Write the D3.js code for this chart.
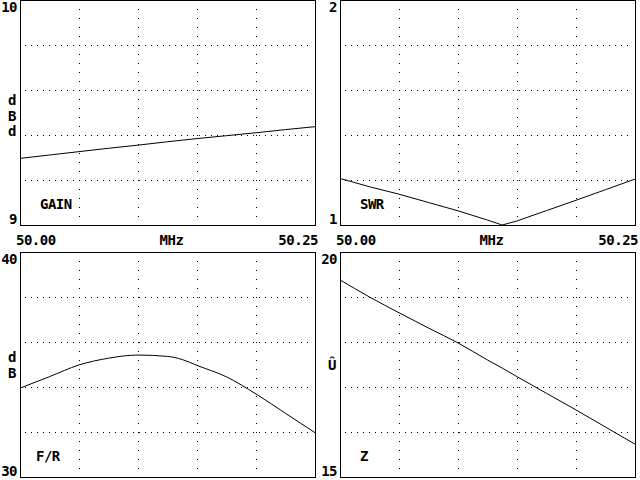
<!DOCTYPE html>
<html><head><meta charset="utf-8">
<script src="https://cdn.jsdelivr.net/npm/d3@7"></script>
<style>
html,body{margin:0;padding:0;background:#fff;}
svg{display:block;}
text{font-family:"DejaVu Sans Mono",monospace;font-weight:bold;font-size:14px;fill:#000;letter-spacing:-0.5px;}
</style></head>
<body>
<svg id="c" width="640" height="480"></svg>
<script>
// Frequencies (MHz)
const freqs = [50.000, 50.025, 50.050, 50.075, 50.100, 50.125, 50.1375, 50.150, 50.175, 50.200, 50.225, 50.250];
// Series
const gain = [9.296, 9.311, 9.326, 9.341, 9.355, 9.370, 9.377, 9.384, 9.397, 9.410, 9.424, 9.437];
const swr  = [1.207, 1.170, 1.137, 1.100, 1.063, 1.022, 1.000, 1.018, 1.064, 1.110, 1.157, 1.204];
const fr   = [33.95, 34.46, 34.98, 35.28, 35.42, 35.36, 35.22, 34.96, 34.45, 33.69, 32.83, 31.97];
const z    = [19.38, 19.00, 18.65, 18.31, 17.98, 17.60, 17.42, 17.23, 16.86, 16.49, 16.11, 15.73];

const xDomain = [50.00, 50.25];
const xTickLabels = ["50.00", "MHz", "50.25"];
const xGrid = [50.05, 50.10, 50.15, 50.20];

const panels = [
  {name:"GAIN", data:gain, domain:[9,10],  yLabels:["10","9"],  unit:["d","B","d"], x0:20,  y0:0,   xlab:true,  smooth:true},
  {name:"SWR",  data:swr,  domain:[1,2],   yLabels:["2","1"],   unit:[],            x0:340, y0:0,   xlab:true,  smooth:false},
  {name:"F/R",  data:fr,   domain:[30,40], yLabels:["40","30"], unit:["d","B"],     x0:20,  y0:252, xlab:false, smooth:true},
  {name:"Z",    data:z,    domain:[15,20], yLabels:["20","15"], unit:["Û"],         x0:340, y0:252, xlab:false, smooth:true}
];

const W = 295, H = 225;
const svg = d3.select("#c");

panels.forEach(p => {
  const x = d3.scaleLinear().domain(xDomain).range([p.x0, p.x0 + W]);
  const y = d3.scaleLinear().domain(p.domain).range([p.y0 + H, p.y0]);
  const g = svg.append("g");
  const step = (p.domain[1] - p.domain[0]) / 5;
  const yGrid = d3.range(1, 5).map(i => p.domain[0] + i * step);

  // horizontal dotted grid
  g.selectAll("line.hg").data(yGrid).join("line")
    .attr("x1", p.x0 + 5).attr("x2", p.x0 + W - 2)
    .attr("y1", d => Math.round(y(d)) + 0.5).attr("y2", d => Math.round(y(d)) + 0.5)
    .attr("stroke", "#000").attr("stroke-width", 1)
    .attr("stroke-dasharray", "1 5").attr("shape-rendering", "crispEdges");
  // vertical dotted grid
  g.selectAll("line.vg").data(xGrid).join("line")
    .attr("x1", d => Math.round(x(d)) + 0.5).attr("x2", d => Math.round(x(d)) + 0.5)
    .attr("y1", p.y0 + 9).attr("y2", p.y0 + H - 2)
    .attr("stroke", "#000").attr("stroke-width", 1)
    .attr("stroke-dasharray", "1 8").attr("shape-rendering", "crispEdges");

  // frame
  g.append("rect").attr("x", p.x0 + 0.5).attr("y", p.y0 + 0.5)
    .attr("width", W).attr("height", H)
    .attr("fill", "none").attr("stroke", "#000").attr("stroke-width", 1)
    .attr("shape-rendering", "crispEdges");

  // curve
  const line = d3.line().x((d, i) => x(freqs[i])).y(d => y(d))
    .curve(p.smooth ? d3.curveMonotoneX : d3.curveLinear);
  g.append("path").datum(p.data).attr("d", line)
    .attr("fill", "none").attr("stroke", "#000").attr("stroke-width", 1);

  // y labels
  g.append("text").attr("x", p.x0 - 3).attr("y", y(p.domain[1]) + 12)
    .attr("text-anchor", "end").text(p.yLabels[0]);
  g.append("text").attr("x", p.x0 - 3).attr("y", y(p.domain[0]) - 1)
    .attr("text-anchor", "end").text(p.yLabels[1]);

  // unit letters stacked
  const uStart = p.unit.length === 3 ? 105 : (p.unit.length === 2 ? 110 : 118);
  p.unit.forEach((u, i) => {
    g.append("text").attr("x", p.x0 - 8).attr("y", p.y0 + uStart + i * 15.5)
      .attr("text-anchor", "middle").text(u);
  });

  // series name
  g.append("text").attr("x", p.x0 + (p.name === "F/R" ? 16 : 20))
    .attr("y", p.y0 + H - 16).text(p.name);

  // x labels
  if (p.xlab) {
    g.append("text").attr("x", x(xDomain[0]) - 4).attr("y", p.y0 + H + 20).text(xTickLabels[0]);
    g.append("text").attr("x", (x(xDomain[0]) + x(xDomain[1])) / 2 + 4).attr("y", p.y0 + H + 20)
      .attr("text-anchor", "middle").text(xTickLabels[1]);
    g.append("text").attr("x", x(xDomain[1]) + 3).attr("y", p.y0 + H + 20)
      .attr("text-anchor", "end").text(xTickLabels[2]);
  }
});
</script>
</body></html>
